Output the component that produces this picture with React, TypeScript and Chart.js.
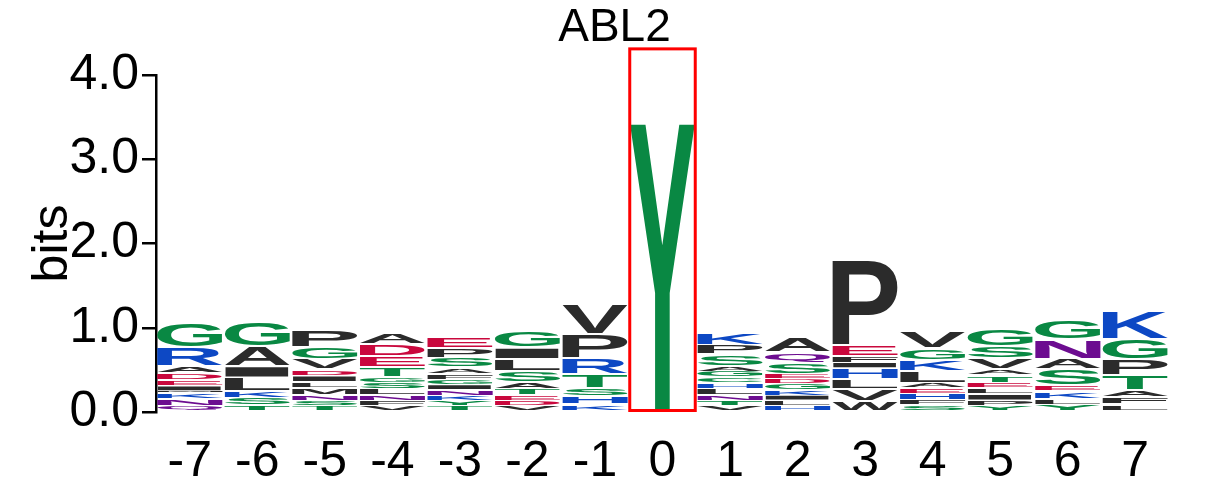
import React, { useEffect, useRef } from "react";
import { Chart, registerables } from "chart.js";

Chart.register(...registerables);

// Sequence positions (x tick labels)
const positions = ["-7", "-6", "-5", "-4", "-3", "-2", "-1", "0", "1", "2", "3", "4", "5", "6", "7"];

// Letters of each column, bottom to top
const columnLetters: string[][] = [
  ["Q", "N", "K", "M", "I", "E", "D", "A", "R", "G"],
  ["T", "S", "K", "L", "I", "A", "G"],
  ["T", "S", "N", "M", "L", "I", "D", "V", "G", "P"],
  ["V", "F", "N", "L", "S", "G", "T", "E", "D", "A"],
  ["T", "Y", "K", "N", "I", "G", "F", "A", "S", "P", "E"],
  ["V", "D", "E", "T", "A", "S", "L", "I", "G"],
  ["K", "H", "S", "T", "R", "P", "V"],
  ["Y"],
  ["V", "T", "N", "L", "H", "C", "G", "A", "S", "P", "K"],
  ["H", "L", "I", "K", "G", "D", "E", "S", "Q", "A"],
  ["W", "V", "L", "H", "I", "F", "E", "P"],
  ["S", "F", "H", "E", "A", "L", "K", "G", "V"],
  ["Y", "P", "I", "L", "E", "T", "A", "V", "S", "G"],
  ["Y", "L", "K", "E", "S", "A", "N", "G"],
  ["L", "F", "A", "T", "P", "G", "K"],
];

// Letter heights in bits, bottom to top
const columnHeights: number[][] = [
  [0.075, 0.08, 0.075, 0.02, 0.06, 0.075, 0.08, 0.08, 0.225, 0.29],
  [0.08, 0.095, 0.07, 0.165, 0.135, 0.235, 0.28],
  [0.075, 0.065, 0.065, 0.08, 0.075, 0.07, 0.075, 0.125, 0.14, 0.21],
  [0.075, 0.065, 0.065, 0.07, 0.07, 0.065, 0.12, 0.135, 0.14, 0.135],
  [0.075, 0.06, 0.065, 0.065, 0.06, 0.065, 0.065, 0.075, 0.115, 0.12, 0.125],
  [0.075, 0.065, 0.065, 0.07, 0.08, 0.135, 0.14, 0.135, 0.195],
  [0.09, 0.095, 0.105, 0.16, 0.195, 0.28, 0.355],
  [3.43],
  [0.075, 0.065, 0.065, 0.07, 0.065, 0.075, 0.07, 0.065, 0.135, 0.115, 0.14],
  [0.08, 0.06, 0.06, 0.065, 0.07, 0.06, 0.055, 0.13, 0.13, 0.17],
  [0.13, 0.14, 0.12, 0.135, 0.065, 0.07, 0.13, 1.02],
  [0.09, 0.06, 0.07, 0.065, 0.06, 0.145, 0.13, 0.135, 0.205],
  [0.075, 0.065, 0.07, 0.075, 0.065, 0.085, 0.075, 0.125, 0.15, 0.215],
  [0.085, 0.075, 0.085, 0.075, 0.19, 0.125, 0.225, 0.225],
  [0.09, 0.09, 0.085, 0.175, 0.19, 0.24, 0.33],
];

const yTicks = [0, 1, 2, 3, 4];
const highlightIndex = 7; // position "0"
const highlightTop = 4.31;

const GREEN = "#098843";
const BLUE = "#0d48c4";
const RED = "#c9083d";
const PURPLE = "#6c0c90";
const BLACK = "#2b2b2b";

const letterColors: Record<string, string> = {
  G: GREEN, S: GREEN, T: GREEN, Y: GREEN, C: GREEN,
  N: PURPLE, Q: PURPLE,
  K: BLUE, R: BLUE, H: BLUE,
  D: RED, E: RED,
};

const LETTER_FONT = 'bold 200px "Liberation Sans", Arial, sans-serif';

function drawLetter(ctx: CanvasRenderingContext2D, ch: string, x0: number, y0: number, w: number, h: number, color: string) {
  if (h < 0.6 || w <= 0) return;
  ctx.save();
  ctx.font = LETTER_FONT;
  ctx.textAlign = "left";
  ctx.textBaseline = "alphabetic";
  const m = ctx.measureText(ch);
  const gw = m.actualBoundingBoxLeft + m.actualBoundingBoxRight;
  const gh = m.actualBoundingBoxAscent + m.actualBoundingBoxDescent;
  ctx.translate(x0, y0);
  ctx.scale(w / gw, h / gh);
  ctx.fillStyle = color;
  ctx.fillText(ch, m.actualBoundingBoxLeft, m.actualBoundingBoxAscent);
  ctx.restore();
}

const maxLayers = Math.max(...columnLetters.map((c) => c.length));

const logoPlugin = {
  id: "logoLetters",
  afterDatasetsDraw(chart: any) {
    const ctx: CanvasRenderingContext2D = chart.ctx;
    for (let k = 0; k < maxLayers; k++) {
      const meta = chart.getDatasetMeta(k);
      meta.data.forEach((el: any, i: number) => {
        const ch = columnLetters[i][k];
        if (!ch) return;
        const p = el.getProps(["x", "y", "base", "width"], true);
        const top = Math.min(p.y, p.base);
        const bottom = Math.max(p.y, p.base);
        const full = bottom - top;
        const inset = full > 6 ? 1 : full > 3 ? 0.6 : 0.3;
        drawLetter(ctx, ch, p.x - p.width / 2, top + inset, p.width, full - 2 * inset, letterColors[ch] || BLACK);
      });
    }
  },
  afterDraw(chart: any) {
    const ctx: CanvasRenderingContext2D = chart.ctx;
    const x = chart.scales.x;
    const y = chart.scales.y;
    const step = x.getPixelForValue(1) - x.getPixelForValue(0);
    const cx = x.getPixelForValue(highlightIndex);
    const left = cx - step * 0.485;
    const right = cx + step * 0.485;
    const top = y.getPixelForValue(highlightTop);
    const bottom = y.getPixelForValue(0) - 1.5;
    ctx.save();
    ctx.strokeStyle = "#ff0000";
    ctx.lineWidth = 3;
    ctx.strokeRect(left, top, right - left, bottom - top);
    ctx.restore();
  },
};

export default function App() {
  const canvasRef = useRef<HTMLCanvasElement>(null);

  useEffect(() => {
    if (!canvasRef.current) return;
    Chart.defaults.font.family = '"Liberation Sans", Arial, sans-serif';
    Chart.defaults.color = "#000";

    const datasets = [];
    for (let k = 0; k < maxLayers; k++) {
      datasets.push({
        label: "layer" + k,
        data: columnHeights.map((hs) => (hs[k] !== undefined ? hs[k] : 0)),
        backgroundColor: "rgba(0,0,0,0)",
        borderWidth: 0,
        stack: "logo",
        barPercentage: 0.965,
        categoryPercentage: 1,
      });
    }

    const chart = new Chart(canvasRef.current, {
      type: "bar",
      data: { labels: positions, datasets },
      options: {
        responsive: false,
        animation: false,
        layout: { padding: { left: 0, right: 0, top: 0, bottom: 0 } },
        plugins: {
          legend: { display: false },
          tooltip: { enabled: false },
          title: {
            display: true,
            text: "ABL2",
            color: "#000",
            align: "center",
            font: { size: 46, weight: "normal", lineHeight: 1.2 },
            padding: { top: 1, bottom: 18.8 },
          },
        },
        scales: {
          x: {
            stacked: true,
            offset: true,
            grid: { display: false },
            border: { display: false },
            ticks: { font: { size: 50 }, padding: 12, color: "#000", maxRotation: 0, autoSkip: false },
            afterFit: (scale: any) => {
              scale.height = 84;
            },
          },
          y: {
            stacked: true,
            min: 0,
            max: 4,
            afterBuildTicks: (scale: any) => {
              scale.ticks = yTicks.map((v) => ({ value: v }));
            },
            grid: {
              display: true,
              drawOnChartArea: false,
              drawTicks: true,
              tickLength: 14,
              color: "#000",
              lineWidth: 2.5,
            },
            border: { display: true, color: "#000", width: 2.5 },
            ticks: {
              font: { size: 50 },
              padding: 3,
              color: "#000",
              callback: (v: any) => Number(v).toFixed(1),
            },
            title: {
              display: true,
              text: "bits",
              color: "#000",
              font: { size: 50 },
              padding: { top: 23, bottom: 0 },
            },
            afterFit: (scale: any) => {
              scale.width = 156;
            },
          },
          yRight: {
            type: "linear",
            position: "right",
            display: true,
            grid: { display: false },
            border: { display: false },
            ticks: { display: false },
            afterFit: (scale: any) => {
              scale.width = 60;
            },
          },
        },
      },
      plugins: [logoPlugin],
    } as any);

    return () => chart.destroy();
  }, []);

  return (
    <div style={{ position: "absolute", left: 0, top: 0, width: 1229, height: 496 }}>
      <canvas ref={canvasRef} width={1229} height={496} style={{ display: "block" }} />
    </div>
  );
}
